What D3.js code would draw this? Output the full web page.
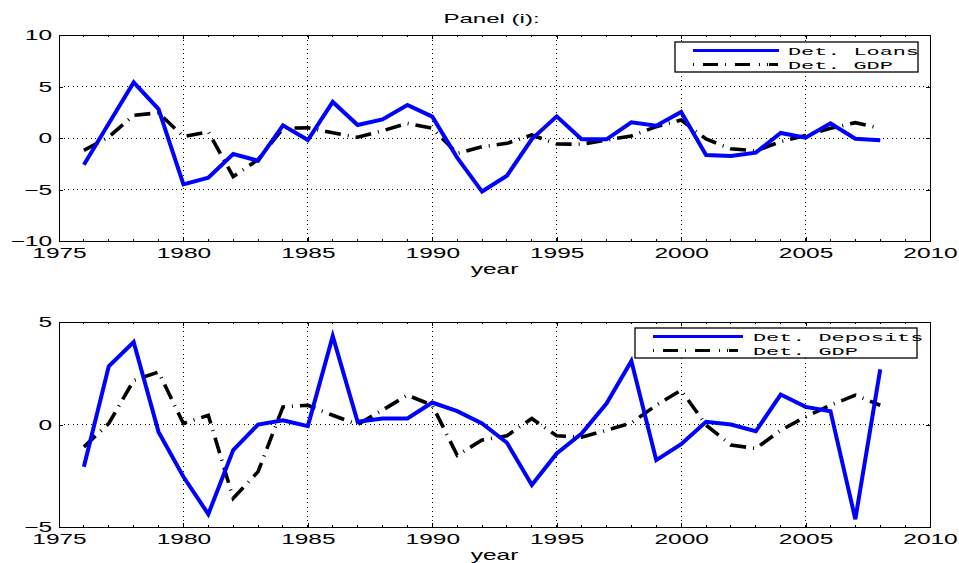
<!DOCTYPE html>
<html>
<head>
<meta charset="utf-8">
<script src="https://cdn.jsdelivr.net/npm/d3@7"></script>
<style>
  html, body { margin: 0; padding: 0; background: #fff; }
  svg { display: block; }
  text { font-family: "Liberation Sans", Arial, sans-serif; fill: #000; }
  .mono { font-family: "Liberation Mono", "DejaVu Sans Mono", monospace; white-space: pre; }
</style>
</head>
<body>
<svg id="chart" width="959" height="563"></svg>
<script>
// ---------------- data ----------------
const years = [1976,1977,1978,1979,1980,1981,1982,1983,1984,1985,1986,1987,1988,1989,1990,1991,1992,1993,1994,1995,1996,1997,1998,1999,2000,2001,2002,2003,2004,2005,2006,2007,2008];
const loans = [-2.6,1.4,5.4,2.8,-4.5,-3.85,-1.55,-2.2,1.23,-0.2,3.5,1.26,1.8,3.2,2.07,-1.9,-5.2,-3.66,-0.1,2.1,-0.13,-0.13,1.52,1.2,2.52,-1.65,-1.75,-1.42,0.49,0.03,1.43,-0.07,-0.22];
const gdpTop = [-1.2,0.1,2.2,2.45,0.13,0.6,-3.75,-2.1,0.94,1.0,0.5,0.07,0.7,1.42,0.94,-1.5,-0.85,-0.52,0.29,-0.58,-0.6,-0.2,0.2,1.1,1.75,-0.1,-1.05,-1.25,-0.36,0.25,0.94,1.49,0.95];
const deposits = [-2.06,2.84,4.02,-0.36,-2.55,-4.37,-1.25,0.0,0.21,-0.08,4.31,0.13,0.29,0.29,1.07,0.65,0.05,-0.89,-2.95,-1.41,-0.44,1.02,3.1,-1.74,-0.96,0.13,0.0,-0.33,1.46,0.86,0.65,-4.62,2.69];
const gdpBottom = [-1.09,0.05,2.15,2.56,0.05,0.45,-3.6,-2.3,0.86,0.94,0.45,0.0,0.7,1.43,0.94,-1.5,-0.76,-0.55,0.29,-0.55,-0.62,-0.28,0.08,0.94,1.67,-0.03,-1.0,-1.17,-0.28,0.37,0.94,1.43,0.94];
const xTicks = [1975,1980,1985,1990,1995,2000,2005,2010];
const xMinorTicks = [1975,1976,1977,1978,1979,1980,1981,1982,1983,1984,1985,1986,1987,1988,1989,1990,1991,1992,1993,1994,1995,1996,1997,1998,1999,2000,2001,2002,2003,2004,2005,2006,2007,2008,2009,2010];
const yTicksTop = [-10,-5,0,5,10];
const yTicksBottom = [-5,0,5];
const titleText = "Panel (i):";
const xLabel = "year";
const legendTop = ["Det. Loans", "Det. GDP"];
const legendBottom = ["Det. Deposits", "Det. GDP"];

// ---------------- layout ----------------
const svg = d3.select("#chart");
const SX = 1.75;          // horizontal stretch of the sans text
const MX = 1.9;           // horizontal stretch of legend text
const left = 59, right = 930;

const x = d3.scaleLinear().domain([1975, 2010]).range([left, right]);

function panel(cfg) {
  const y = d3.scaleLinear().domain(cfg.ydomain).range([cfg.bottom, cfg.top]);
  const g = svg.append("g");

  // grid
  const gridX = xTicks.filter(t => t > 1975 && t < 2010);
  const gridY = cfg.yticks.filter(t => t > cfg.ydomain[0] && t < cfg.ydomain[1]);
  g.append("g").selectAll("line").data(gridX).join("line")
    .attr("x1", d => x(d)).attr("x2", d => x(d))
    .attr("y1", cfg.top).attr("y2", cfg.bottom)
    .attr("stroke", "#000").attr("stroke-width", 1)
    .attr("stroke-dasharray", "1,3.5").attr("shape-rendering", "crispEdges");
  g.append("g").selectAll("line").data(gridY).join("line")
    .attr("y1", d => y(d)).attr("y2", d => y(d))
    .attr("x1", left).attr("x2", right)
    .attr("stroke", "#000").attr("stroke-width", 1)
    .attr("stroke-dasharray", "1,3.5").attr("shape-rendering", "crispEdges");

  // series
  const line = d3.line().x((d, i) => x(years[i])).y(d => y(d));
  g.append("path").datum(cfg.gdp)
    .attr("d", line).attr("fill", "none")
    .attr("stroke", "#000").attr("stroke-width", 3.6)
    .attr("stroke-dasharray", "16,7,1,7");
  g.append("path").datum(cfg.series)
    .attr("d", line).attr("fill", "none")
    .attr("stroke", "#0000ff").attr("stroke-width", 4)
    .attr("stroke-linejoin", "miter");

  // axes (MATLAB style: ticks inside on all sides)
  const axB = g.append("g").attr("transform", `translate(0,${cfg.bottom})`)
    .call(d3.axisBottom(x).tickValues(xTicks).tickFormat(d3.format("d")).tickSize(-4).tickPadding(7));
  const axT = g.append("g").attr("transform", `translate(0,${cfg.top})`)
    .call(d3.axisTop(x).tickValues(xTicks).tickFormat("").tickSize(-4));
  const axL = g.append("g").attr("transform", `translate(${left},0)`)
    .call(d3.axisLeft(y).tickValues(cfg.yticks).tickFormat(d3.format("d")).tickSize(-4));
  const axR = g.append("g").attr("transform", `translate(${right},0)`)
    .call(d3.axisRight(y).tickValues(cfg.yticks).tickFormat("").tickSize(-4));

  // minor ticks on x
  [[cfg.bottom, -2], [cfg.top, 2]].forEach(([yy, len]) => {
    g.append("g").selectAll("line").data(xMinorTicks).join("line")
      .attr("x1", d => x(d)).attr("x2", d => x(d))
      .attr("y1", yy).attr("y2", yy + len)
      .attr("stroke", "#000").attr("stroke-width", 1).attr("shape-rendering", "crispEdges");
  });

  [axB, axT, axL, axR].forEach(a => {
    a.select(".domain").attr("stroke", "#000").attr("stroke-width", 1.2).attr("shape-rendering", "crispEdges");
    a.selectAll(".tick line").attr("stroke", "#000").attr("shape-rendering", "crispEdges");
  });
  axB.selectAll("text").attr("font-family", "Liberation Sans, Arial, sans-serif")
    .attr("font-size", 14).attr("fill", "#000")
    .attr("transform", `scale(${SX},1)`);
  axL.selectAll("text").attr("font-family", "Liberation Sans, Arial, sans-serif")
    .attr("font-size", 14).attr("fill", "#000")
    .attr("x", -7 / SX).attr("dy", "0.33em")
    .attr("transform", `scale(${SX},1)`);

  // x label
  g.append("text")
    .attr("transform", `translate(${(left + right) / 2},${cfg.bottom + 33}) scale(${SX},1)`)
    .attr("text-anchor", "middle").attr("font-size", 14)
    .text(xLabel);

  // legend
  const L = cfg.legend;
  const lg = g.append("g");
  lg.append("rect").attr("x", L.x).attr("y", L.y).attr("width", L.w).attr("height", 30)
    .attr("fill", "#fff").attr("stroke", "#000").attr("stroke-width", 1.3);
  const rows = [L.y + 8.5, L.y + 22.5];
  lg.append("line").attr("x1", L.lx1).attr("x2", L.lx2).attr("y1", rows[0]).attr("y2", rows[0])
    .attr("stroke", "#0000ff").attr("stroke-width", 3);
  lg.append("line").attr("x1", L.lx1).attr("x2", L.lx2).attr("y1", rows[1]).attr("y2", rows[1])
    .attr("stroke", "#000").attr("stroke-width", 3).attr("stroke-dasharray", "1,9,15,7,1,9,15,9,1,7,1");
  L.labels.forEach((t, i) => {
    lg.append("text").attr("class", "mono")
      .attr("transform", `translate(${L.tx},${rows[i] + 4}) scale(${MX},1)`)
      .attr("font-size", 11.5).text(t);
  });
}

// title
svg.append("text")
  .attr("transform", `translate(${(left + right) / 2 - 3},23) scale(1.85,1)`)
  .attr("text-anchor", "middle").attr("font-size", 13)
  .text(titleText);

panel({
  top: 35, bottom: 241, ydomain: [-10, 10], yticks: yTicksTop,
  series: loans, gdp: gdpTop,
  legend: { x: 675, y: 42, w: 243, lx1: 693, lx2: 779, tx: 788, labels: legendTop }
});
panel({
  top: 322, bottom: 527, ydomain: [-5, 5], yticks: yTicksBottom,
  series: deposits, gdp: gdpBottom,
  legend: { x: 635, y: 328, w: 282, lx1: 653, lx2: 743, tx: 753, labels: legendBottom }
});
</script>
</body>
</html>
